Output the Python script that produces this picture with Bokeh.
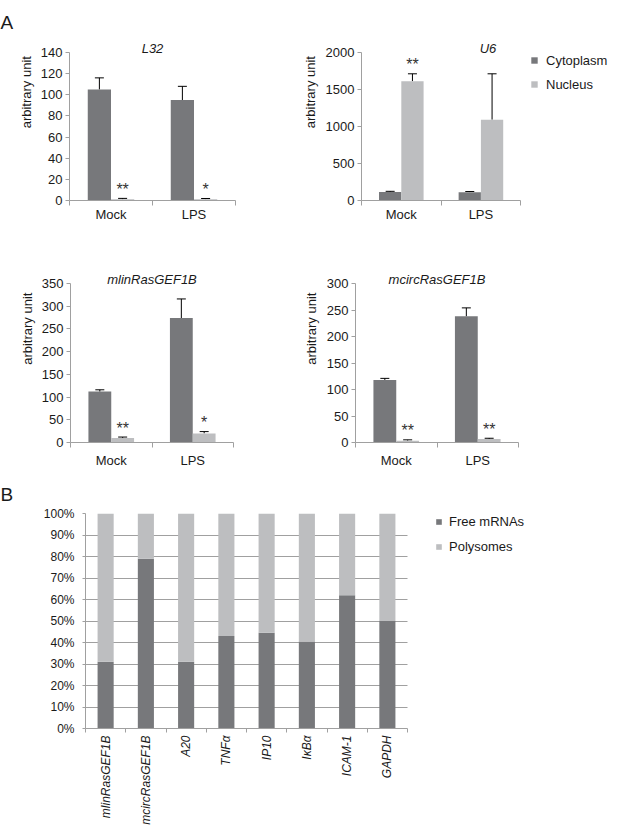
import numpy as np
from bokeh.plotting import figure
from bokeh.models import (ColumnDataSource, Range1d, FixedTicker, SingleIntervalTicker,
                          Whisker, TeeHead, Legend, LegendItem, Title, PrintfTickFormatter)
from bokeh.layouts import column, row
from bokeh.transform import dodge
from bokeh.core.properties import value
from bokeh.embed import file_html
from bokeh.resources import INLINE

# ---------------- data ----------------
groups = ["Mock", "LPS"]
fractions = ["Cytoplasm", "Nucleus"]

l32_cyto = [105, 95]
l32_cyto_hi = [116, 108]
l32_nuc = [1.2, 1.2]
l32_nuc_hi = [2.0, 1.9]
l32_sig = ["**", "*"]

u6_cyto = [116, 113]
u6_cyto_hi = [124, 121]
u6_nuc = [1612, 1092]
u6_nuc_hi = [1712, 1712]
u6_sig = ["**", ""]

mlin_cyto = [112, 274]
mlin_cyto_hi = [116, 316]
mlin_nuc = [10, 20]
mlin_nuc_hi = [12, 24]
mlin_sig = ["**", "*"]

mcirc_cyto = [118, 238]
mcirc_cyto_hi = [121, 254]
mcirc_nuc = [3.5, 6.5]
mcirc_nuc_hi = [5, 8]
mcirc_sig = ["**", "**"]

genes = ["mlinRasGEF1B", "mcircRasGEF1B", "A20", "TNF\u03b1", "IP10", "I\u03baB\u03b1", "ICAM-1", "GAPDH"]
fractions_b = ["Free mRNAs", "Polysomes"]
free_mrnas = [31, 79, 31, 43, 44.5, 40.5, 62, 50]
polysomes = [69, 21, 69, 57, 55.5, 59.5, 38, 50]

# ---------------- style ----------------
FONT = "Liberation Sans"
DARK = "#77787b"
LIGHT = "#bdbec0"
AXC = "#a0a0a0"
TXT = "#1a1a1a"
YLABEL = "\u00a0" * 19 + "arbitrary unit"


def base_axes(p, fs):
    for ax in p.axis:
        ax.axis_line_color = AXC
        ax.major_tick_line_color = AXC
        ax.minor_tick_line_color = AXC
        ax.major_label_text_font = FONT
        ax.major_label_text_font_size = fs
        ax.major_label_text_color = TXT
        ax.axis_label_text_font = FONT
        ax.axis_label_text_font_style = "normal"
        ax.axis_label_text_color = TXT


def letter_title(t, letter, offset, standoff):
    t.text = letter
    t.align = "left"
    t.offset = offset
    t.text_font = FONT
    t.text_font_size = "19px"
    t.text_font_style = "normal"
    t.text_color = TXT
    t.standoff = standoff


def bar_panel(name, cyto, cyto_hi, nuc, nuc_hi, sig, ymax, step, w, h, bl, br, bt, bb,
              data_w, frame_w, lab_so, title_shift, xlab_so, letter=None, letter_standoff=0):
    n = len(groups)
    xc = [i + 0.5 for i in range(n)]
    src = ColumnDataSource(dict(xc=xc, cyto=cyto, cyto_hi=cyto_hi, nuc=nuc, nuc_hi=nuc_hi, sig=sig))
    p = figure(width=w, height=h, x_range=Range1d(0, n * frame_w / data_w), y_range=Range1d(0, ymax),
               output_backend="svg", toolbar_location=None,
               min_border_left=bl, min_border_right=br, min_border_top=bt, min_border_bottom=bb)
    p.outline_line_color = None
    p.grid.visible = False
    rc = p.vbar(x=dodge("xc", -0.14), top="cyto", width=0.28, source=src,
                fill_color=DARK, line_color=None)
    rn = p.vbar(x=dodge("xc", 0.14), top="nuc", width=0.28, source=src,
                fill_color=LIGHT, line_color=None)
    for off, lo, hi in ((-0.14, "cyto", "cyto_hi"), (0.14, "nuc", "nuc_hi")):
        p.add_layout(Whisker(source=src, base=dodge("xc", off), lower=lo, upper=hi,
                             dimension="height", line_color="black", line_width=1,
                             upper_head=TeeHead(size=9, line_color="black", line_width=1),
                             lower_head=None))
    p.text(x=dodge("xc", 0.14), y="nuc_hi", text="sig", source=src, text_align="center",
           text_baseline="alphabetic", y_offset=-9, text_font=value(FONT),
           text_font_size="16px", text_color="#333333")
    # panel title (gene name)
    t = Title(text=name, align="center", offset=-(frame_w - data_w) / 2 + title_shift,
              text_font=FONT, text_font_size="13px", text_font_style="italic", text_color=TXT)
    try:
        t.standoff = -6
    except Exception:
        t.standoff = 0
    if letter is not None:
        letter_title(p.title, letter, -bl, letter_standoff)
        p.add_layout(t, "above")
    else:
        p.title = t
    base_axes(p, "13px")
    p.xaxis.bounds = (0, n)
    p.xaxis.ticker = FixedTicker(ticks=xc, minor_ticks=list(range(n + 1)))
    p.xaxis.major_label_overrides = {x: g for x, g in zip(xc, groups)}
    p.xaxis.major_tick_line_color = None
    p.xaxis.major_tick_out = 0
    p.xaxis.major_tick_in = 0
    p.xaxis.minor_tick_out = 5
    p.xaxis.minor_tick_in = 0
    p.xaxis.major_label_standoff = xlab_so
    p.yaxis.ticker = SingleIntervalTicker(interval=step, num_minor_ticks=0)
    p.yaxis.minor_tick_line_color = None
    p.yaxis.major_tick_out = 4
    p.yaxis.major_tick_in = 0
    p.yaxis.major_label_standoff = 3
    p.yaxis.axis_label = YLABEL
    p.yaxis.axis_label_text_font_size = "13px"
    p.yaxis.axis_label_standoff = lab_so
    return p, rc, rn


# layout (pixels)
R1H, R2H = 230, 242
FH1, FH2 = 150, 159

p1, _, _ = bar_panel("L32", l32_cyto, l32_cyto_hi, l32_nuc, l32_nuc_hi, l32_sig,
                     140, 20, 299, R1H, 69, 64, 50, R1H - 50 - FH1, 166, 166, 4, -8, 1,
                     letter="A", letter_standoff=18)
p2, rc2, rn2 = bar_panel("U6", u6_cyto, u6_cyto_hi, u6_nuc, u6_nuc_hi, u6_sig,
                         2000, 500, 323, R1H, 56, 8, 50, R1H - 50 - FH1, 163, 259, 5, 15, 1)
p3, _, _ = bar_panel("mlinRasGEF1B", mlin_cyto, mlin_cyto_hi, mlin_nuc, mlin_nuc_hi, mlin_sig,
                     350, 50, 299, R2H, 70, 66, 53, R2H - 53 - FH2, 163, 163, 4, 0, 5)
p4, _, _ = bar_panel("mcircRasGEF1B", mcirc_cyto, mcirc_cyto_hi, mcirc_nuc, mcirc_nuc_hi, mcirc_sig,
                     300, 50, 323, R2H, 56, 104, 53, R2H - 53 - FH2, 163, 163, 5, 3, 5)

leg_a = Legend(items=[LegendItem(label=fractions[0], renderers=[rc2]),
                      LegendItem(label=fractions[1], renderers=[rn2])],
               location=(169, FH1 - 44), orientation="vertical", border_line_color=None,
               background_fill_alpha=0, padding=0, margin=0, spacing=4, label_height=20,
               glyph_width=8, glyph_height=8, label_standoff=8,
               label_text_font=FONT, label_text_font_size="13px", label_text_color=TXT)
p2.add_layout(leg_a)

# ---------------- panel B ----------------
PBH = 827 - R1H - R2H
FHB = 215
B_DATA_W, B_FRAME_W = 322, 529
nb = len(genes)
xb = [i + 0.5 for i in range(nb)]
src_b = ColumnDataSource(dict(xc=xb, free=free_mrnas, poly=polysomes))
p5 = figure(width=622, height=PBH, x_range=Range1d(0, nb * B_FRAME_W / B_DATA_W),
            y_range=Range1d(0, 100),
            output_backend="svg", toolbar_location=None,
            min_border_left=85, min_border_right=8, min_border_top=41,
            min_border_bottom=PBH - 41 - FHB)
p5.outline_line_color = None
rs = p5.vbar_stack(["free", "poly"], x="xc", width=0.4, source=src_b,
                   fill_color=[DARK, LIGHT], line_color=None)
p5.xgrid.visible = False
p5.ygrid.grid_line_color = AXC
p5.ygrid.grid_line_width = 1
try:
    p5.ygrid.cross_bounds = (0, nb)
except Exception:
    pass
base_axes(p5, "12px")
p5.yaxis.ticker = SingleIntervalTicker(interval=10, num_minor_ticks=0)
p5.yaxis.formatter = PrintfTickFormatter(format="%d%%")
p5.yaxis.major_tick_out = 3
p5.yaxis.major_tick_in = 0
p5.yaxis.major_label_standoff = 8
p5.yaxis.minor_tick_line_color = None
p5.xaxis.bounds = (0, nb)
p5.xaxis.ticker = FixedTicker(ticks=xb, minor_ticks=list(range(nb + 1)))
p5.xaxis.major_label_overrides = {x: g for x, g in zip(xb, genes)}
p5.xaxis.major_tick_line_color = None
p5.xaxis.major_tick_out = 0
p5.xaxis.major_tick_in = 0
p5.xaxis.minor_tick_out = 4
p5.xaxis.minor_tick_in = 0
p5.xaxis.major_label_standoff = 3
p5.xaxis.major_label_orientation = np.pi / 2
p5.xaxis.major_label_text_font_style = "italic"
p5.xaxis.major_label_text_font_size = "12px"

leg_b = Legend(items=[LegendItem(label=fractions_b[0], renderers=[rs[0]]),
                      LegendItem(label=fractions_b[1], renderers=[rs[1]])],
               location=(350, FHB - 41), orientation="vertical", border_line_color=None,
               background_fill_alpha=0, padding=0, margin=0, spacing=10, label_height=14,
               glyph_width=7, glyph_height=7, label_standoff=7,
               label_text_font=FONT, label_text_font_size="13px", label_text_color=TXT)
p5.add_layout(leg_b)

letter_title(p5.title, "B", -85, 17)

layout = column(row(p1, p2), row(p3, p4), p5)
open("out.html", "w").write(file_html(layout, INLINE))
